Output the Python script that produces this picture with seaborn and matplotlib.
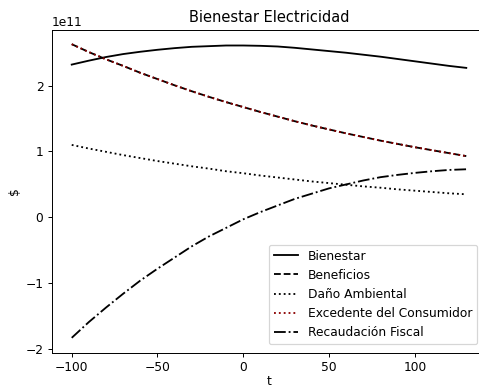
import matplotlib
matplotlib.use("Agg")
import matplotlib.pyplot as plt
import seaborn as sns
import numpy as np

t = [-100, -90, -80, -70, -60, -50, -40, -30, -20, -10, 0, 10,
     20, 30, 40, 50, 60, 70, 80, 90, 100, 110, 120, 130]
bienestar = [2.32, 2.38, 2.435, 2.48, 2.515, 2.545, 2.57, 2.59, 2.60, 2.61, 2.61, 2.605,
             2.595, 2.575, 2.55, 2.525, 2.50, 2.47, 2.44, 2.405, 2.37, 2.335, 2.30, 2.27]
beneficios = [2.63, 2.51, 2.40, 2.30, 2.195, 2.10, 2.005, 1.915, 1.83, 1.75, 1.675, 1.60,
              1.53, 1.46, 1.395, 1.335, 1.275, 1.22, 1.165, 1.115, 1.065, 1.02, 0.975, 0.93]
dano = [1.10, 1.045, 0.995, 0.945, 0.90, 0.855, 0.815, 0.775, 0.74, 0.70, 0.67, 0.635,
        0.605, 0.575, 0.545, 0.52, 0.495, 0.47, 0.45, 0.425, 0.405, 0.385, 0.365, 0.35]
excedente = [2.63, 2.51, 2.40, 2.30, 2.195, 2.10, 2.005, 1.915, 1.83, 1.75, 1.675, 1.60,
             1.53, 1.46, 1.395, 1.335, 1.275, 1.22, 1.165, 1.115, 1.065, 1.02, 0.975, 0.93]
recaudacion = [-1.83, -1.59, -1.37, -1.16, -0.96, -0.78, -0.61, -0.44, -0.29, -0.16, -0.03, 0.08,
               0.18, 0.28, 0.36, 0.44, 0.50, 0.56, 0.61, 0.645, 0.675, 0.70, 0.72, 0.73]
scale = 1e11

W, H = 479, 388
DPI = 88
fig = plt.figure(figsize=(W / DPI, H / DPI), dpi=DPI)
ax = fig.add_axes([52 / W, 1 - 352.5 / H, (486 - 52) / W, (352.5 - 29.5) / H])

series = [
    ("Bienestar", bienestar, "black", "-"),
    ("Beneficios", beneficios, "black", "--"),
    ("Daño Ambiental", dano, "black", ":"),
    ("Excedente del Consumidor", excedente, "darkred", ":"),
    ("Recaudación Fiscal", recaudacion, "black", "-."),
]
for name, vals, col, ls in series:
    sns.lineplot(x=t, y=np.array(vals) * scale, ax=ax, color=col, linestyle=ls,
                 label=name, linewidth=1.5)

ax.set_title("Bienestar Electricidad", fontsize=12)
ax.set_xlabel("t", labelpad=1)
ax.set_ylabel("$")
ax.set_xticks([-100, -50, 0, 50, 100])
ax.legend(loc="lower right", borderaxespad=0.7)
fig.savefig("out.png", dpi=DPI)
